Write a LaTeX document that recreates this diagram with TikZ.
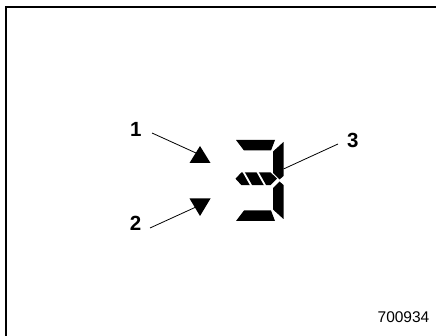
\documentclass[tikz,border=0pt]{standalone}
\usepackage{fontspec}
\setmainfont{Liberation Sans}
\begin{document}
\begin{tikzpicture}[x=1pt,y=-1pt,
  seg/.style={fill=black,draw=none},
  callout/.style={font=\fontsize{20.5}{20.5}\selectfont\bfseries,inner sep=0pt},
  leader/.style={draw=black,line width=0.8pt},
  frame/.style={draw=black,line width=1.4pt}]
\useasboundingbox (0,0) rectangle (436,336);
% frame
\draw[frame] (6,336) -- (6,7) -- (436,7);
% triangles
\fill (200,146) -- (210.5,163) -- (189.5,163) -- cycle;
\fill (189.5,198.5) -- (210.5,198.5) -- (200,216) -- cycle;
% digit 3
\fill[seg] (236,140) -- (275,140) -- (271,150.5) -- (244,150.5) -- cycle;
\fill[seg] (283.5,142) -- (283.5,176) -- (279.5,179.5) -- (273,173) -- (273,151.5) -- cycle;
\fill[seg] (283.5,219) -- (283.5,185) -- (279.5,181.5) -- (273,188) -- (273,209.5) -- cycle;
\fill[seg] (236,221) -- (275,221) -- (271,210.5) -- (244,210.5) -- cycle;
\fill[seg] (235.5,178.7) -- (241.5,172.3) -- (270.5,172.3) -- (277,178.7) -- (270.5,185.2) -- (241.5,185.2) -- cycle;
\draw[white,line width=1.8pt] (243,171) -- (252,187);
\draw[white,line width=1.8pt] (257,171) -- (266,187);
% labels
\node[callout] (l1) at (135.7,129.7) {1};
\node[callout] (l2) at (135.5,223.3) {2};
\node[callout] (l3) at (352.7,140.8) {3};
\coordinate (p1) at (196,153);
\coordinate (p2) at (196,207);
\coordinate (p3) at (283.5,169);
\draw[leader] (152,133) -- (p1);
\draw[leader] (150,228) -- (p2);
\draw[leader] (338,144) -- (p3);
\node[inner sep=0pt,font=\fontsize{15.5}{15.5}\selectfont] (code) at (403.5,317) {700934};
\end{tikzpicture}
\end{document}
